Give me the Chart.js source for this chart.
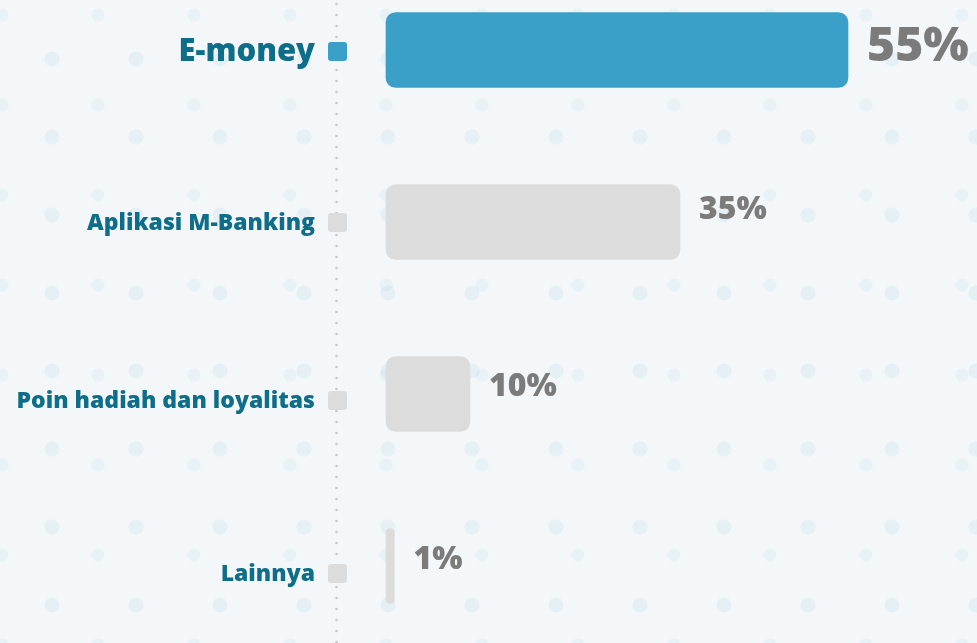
<!DOCTYPE html>
<html>
<head>
<meta charset="utf-8">
<script src="https://cdn.jsdelivr.net/npm/chart.js@4/dist/chart.umd.min.js"></script>
<style>
  html, body { margin: 0; padding: 0; }
  body {
    width: 977px; height: 643px; overflow: hidden; position: relative;
    background-color: #f4f7f9;
    background-image:
      radial-gradient(circle, rgba(150,200,218,0.16) 7px, transparent 8px),
      radial-gradient(circle, rgba(150,200,218,0.12) 6px, transparent 7px);
    background-size: 84px 78px, 96px 90px;
    background-position: 10px 20px, 50px 60px;
  }
  canvas { display: block; position: absolute; left: 0; top: -36px; }
</style>
</head>
<body>
<canvas id="chart" width="977" height="688"></canvas>
<script>
const categories = ['E-money', 'Aplikasi M-Banking', 'Poin hadiah dan loyalitas', 'Lainnya'];
const shares = [55, 35, 10, 1];
const valueLabels = ['55%', '35%', '10%', '1%'];

const teal = '#0e6d88';
const blue = '#3aa0c7';
const grey = '#dcdcdc';
const fontFam = '"Open Sans", Lato, sans-serif';

// small vertical nudges seen in the original artwork
const labelNudge = [1, 0, 6, 7];
const valueNudge = [-3, -12, -7, -6];

const sidePlugin = {
  id: 'side',
  beforeDatasetsDraw(chart) {
    const ctx = chart.ctx;
    // dotted guide line
    ctx.save();
    ctx.fillStyle = '#c4c9cc';
    for (let y = 40; y < chart.height; y += 11) {
      ctx.beginPath();
      ctx.arc(336.5, y, 1.3, 0, Math.PI * 2);
      ctx.fill();
    }
    // category labels + legend squares
    const yScale = chart.scales.y;
    ctx.textAlign = 'right';
    ctx.textBaseline = 'middle';
    categories.forEach((c, i) => {
      const y = yScale.getPixelForValue(i) + labelNudge[i];
      ctx.fillStyle = i === 0 ? blue : grey;
      ctx.beginPath();
      ctx.roundRect(328, y - 9, 19, 19, 3);
      ctx.fill();
      ctx.fillStyle = teal;
      ctx.font = `800 ${i === 0 ? 31 : 23}px ${fontFam}`;
      ctx.fillText(c, 315, y + 1);
    });
    ctx.restore();
  },
  afterDatasetsDraw(chart) {
    const ctx = chart.ctx;
    const meta = chart.getDatasetMeta(0);
    ctx.save();
    ctx.fillStyle = '#7b7b7b';
    ctx.textBaseline = 'middle';
    ctx.textAlign = 'left';
    meta.data.forEach((bar, i) => {
      const size = i === 0 ? 48 : 32;
      ctx.font = `800 ${size}px ${fontFam}`;
      ctx.fillText(valueLabels[i], bar.x + 19, bar.y + valueNudge[i]);
    });
    ctx.restore();
  }
};

new Chart(document.getElementById('chart'), {
  type: 'bar',
  data: {
    labels: categories,
    datasets: [{
      data: shares,
      backgroundColor: shares.map((v, i) => i === 0 ? blue : grey),
      borderRadius: 10,
      borderSkipped: false,
      barThickness: 75,
      clip: false
    }]
  },
  options: {
    indexAxis: 'y',
    responsive: false,
    animation: false,
    layout: { padding: { top: 0, bottom: 0, left: 0, right: 3 } },
    plugins: { legend: { display: false }, tooltip: { enabled: false } },
    scales: {
      x: { display: false, min: 0, max: 70 },
      y: {
        grid: { display: false },
        border: { display: false },
        ticks: { display: false },
        afterFit(scale) { scale.width = 386; }
      }
    }
  },
  plugins: [sidePlugin]
});
</script>
</body>
</html>
